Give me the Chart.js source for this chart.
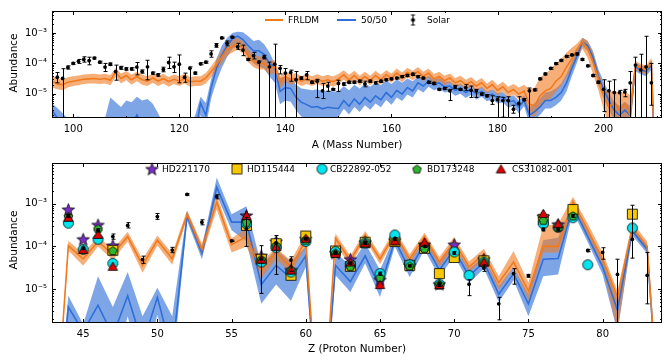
<!DOCTYPE html>
<html lang="en">
<head>
  <meta charset="UTF-8" />
  <title>r-process abundances</title>
  <script src="https://cdn.jsdelivr.net/npm/chart.js"></script>
  <style>
    body { margin: 0; background: #fff; }
    #page { position: relative; width: 670px; height: 361px; overflow: hidden; font-family: "DejaVu Sans", sans-serif; color: #000; }
    #page canvas.chart { position: absolute; left: 0; }
    .axis-title { position: absolute; font-size: 10.5px; white-space: nowrap; transform: translate(-50%, -50%); }
    .axis-title.vertical { transform: translate(-50%, -50%) rotate(-90deg); }
    .legend-text { position: absolute; font-size: 9px; line-height: 1; white-space: nowrap; transform: translateY(-50%); }
    .legend-line { position: absolute; height: 2px; }
    .legend-icon { position: absolute; transform: translate(-50%, -50%); }
  </style>
</head>
<body>
  <div id="page">
    <canvas id="massChart" class="chart" width="670" height="152" style="top:0"></canvas>
    <canvas id="protonChart" class="chart" width="670" height="209" style="top:152px"></canvas>

    <div class="axis-title vertical" style="left:13px; top:63px">Abundance</div>
    <div class="axis-title" style="left:357px; top:144px">A (Mass Number)</div>
    <div class="axis-title vertical" style="left:13px; top:240px">Abundance</div>
    <div class="axis-title" style="left:357px; top:348px">Z (Proton Number)</div>

    <div class="legend-line" style="left:265px; top:19px; width:18px; background:#f17a1f"></div>
    <div class="legend-text" style="left:288px; top:20px">FRLDM</div>
    <div class="legend-line" style="left:337px; top:19px; width:19px; background:#2f6fd8"></div>
    <div class="legend-text" style="left:361px; top:20px">50/50</div>
    <div class="legend-text" style="left:427px; top:20px">Solar</div>
  </div>

  <script>
    // ---- top panel: abundance vs mass number ----
    const massNumbers = [
      96, 97, 98, 99, 100, 101, 102, 103, 104, 105,
      106, 107, 108, 109, 110, 111, 112, 113, 114, 115,
      116, 117, 118, 119, 120, 121, 122, 123, 124, 125,
      126, 127, 128, 129, 130, 131, 132, 133, 134, 135,
      136, 137, 138, 139, 140, 141, 142, 143, 144, 145,
      146, 147, 148, 149, 150, 151, 152, 153, 154, 155,
      156, 157, 158, 159, 160, 161, 162, 163, 164, 165,
      166, 167, 168, 169, 170, 171, 172, 173, 174, 175,
      176, 177, 178, 179, 180, 181, 182, 183, 184, 185,
      186, 187, 188, 189, 190, 191, 192, 193, 194, 195,
      196, 197, 198, 199, 200, 201, 202, 203, 204, 205,
      206, 207, 208, 209, 210
    ];

    const frldmA = [
      2.6e-5, 2.1e-5, 2.0e-5, 2.4e-5, 2.6e-5, 2.8e-5, 3.0e-5, 3.1e-5, 3.2e-5, 3.0e-5,
      3.2e-5, 2.8e-5, 5.1e-5, 3.2e-5, 4.0e-5, 2.9e-5, 3.7e-5, 2.9e-5, 2.6e-5, 3.3e-5,
      2.6e-5, 3.2e-5, 2.5e-5, 3.0e-5, 2.6e-5, 3.2e-5, 2.5e-5, 2.6e-5, 2.6e-5, 3.3e-5,
      5.4e-5, 8.8e-5, 1.6e-4, 3.0e-4, 3.5e-4, 4.3e-4, 3.3e-4, 1.8e-4, 1.2e-4, 1.0e-4,
      1.0e-4, 6.8e-5, 7.7e-5, 2.3e-5, 3.7e-5, 2.9e-5, 3.3e-5, 2.6e-5, 3.1e-5, 2.6e-5,
      3.0e-5, 2.6e-5, 2.9e-5, 2.5e-5, 3.1e-5, 4.2e-5, 2.9e-5, 4.0e-5, 2.7e-5, 3.7e-5,
      2.7e-5, 4.0e-5, 2.9e-5, 4.2e-5, 3.3e-5, 4.8e-5, 3.5e-5, 5.1e-5, 4.0e-5, 5.4e-5,
      3.7e-5, 4.8e-5, 3.1e-5, 3.7e-5, 2.7e-5, 3.3e-5, 2.3e-5, 2.7e-5, 2.0e-5, 2.5e-5,
      1.8e-5, 2.3e-5, 1.5e-5, 2.0e-5, 1.3e-5, 1.7e-5, 1.1e-5, 1.4e-5, 9.8e-6, 1.25e-5,
      4.5e-6, 4.0e-6, 8.6e-6, 1.25e-5, 1.5e-5, 2.6e-5, 3.7e-5, 7.7e-5, 1.4e-4, 3.0e-4,
      5.1e-4, 3.0e-4, 1.1e-4, 3.3e-5, 8.6e-6, 3.7e-6, 5.3e-6, 2.9e-6, 4.7e-6, 2.0e-6,
      8.8e-5, 6.8e-5, 6.1e-5, 1.1e-4, 1e-9
    ];
    const frldmALo = [
      1.6e-5, 1.4e-5, 1.3e-5, 1.6e-5, 1.8e-5, 1.9e-5, 2.1e-5, 2.2e-5, 2.2e-5, 2.1e-5,
      2.2e-5, 1.9e-5, 3.6e-5, 2.2e-5, 2.8e-5, 2.0e-5, 2.6e-5, 2.0e-5, 1.8e-5, 2.3e-5,
      1.8e-5, 2.2e-5, 1.7e-5, 2.1e-5, 1.8e-5, 2.2e-5, 1.7e-5, 1.8e-5, 1.8e-5, 2.2e-5,
      3.5e-5, 5.5e-5, 1.0e-4, 1.8e-4, 2.3e-4, 2.8e-4, 2.1e-4, 1.1e-4, 7.5e-5, 6.3e-5,
      6.3e-5, 4.2e-5, 4.8e-5, 1.5e-5, 2.5e-5, 2.0e-5, 2.3e-5, 1.8e-5, 2.1e-5, 1.8e-5,
      2.1e-5, 1.8e-5, 2.0e-5, 1.7e-5, 2.1e-5, 2.9e-5, 2.0e-5, 2.8e-5, 1.9e-5, 2.6e-5,
      1.9e-5, 2.8e-5, 2.0e-5, 2.9e-5, 2.3e-5, 3.3e-5, 2.4e-5, 3.5e-5, 2.8e-5, 3.7e-5,
      2.6e-5, 3.3e-5, 2.1e-5, 2.6e-5, 1.9e-5, 2.3e-5, 1.6e-5, 1.9e-5, 1.4e-5, 1.7e-5,
      1.2e-5, 1.6e-5, 1.0e-5, 1.4e-5, 8.8e-6, 1.2e-5, 7.5e-6, 9.5e-6, 6.5e-6, 8.0e-6,
      2.0e-6, 1.8e-6, 3.5e-6, 5.5e-6, 7.0e-6, 1.2e-5, 1.8e-5, 3.5e-5, 6.5e-5, 1.5e-4,
      3.0e-4, 1.5e-4, 4.5e-5, 1.3e-5, 3.0e-6, 1.0e-6, 1.5e-6, 8e-7, 1.2e-6, 5e-7,
      6.5e-5, 4.8e-5, 4.3e-5, 8.0e-5, 1e-9
    ];
    const frldmAHi = [
      4.0e-5, 3.2e-5, 3.0e-5, 3.5e-5, 3.8e-5, 4.0e-5, 4.3e-5, 4.5e-5, 4.6e-5, 4.3e-5,
      4.6e-5, 4.1e-5, 7.0e-5, 4.6e-5, 5.6e-5, 4.2e-5, 5.3e-5, 4.2e-5, 3.8e-5, 4.7e-5,
      3.8e-5, 4.6e-5, 3.6e-5, 4.3e-5, 3.8e-5, 4.6e-5, 3.6e-5, 3.8e-5, 3.8e-5, 4.8e-5,
      8.0e-5, 1.4e-4, 2.6e-4, 4.6e-4, 6.1e-4, 6.9e-4, 5.5e-4, 3.0e-4, 2.0e-4, 1.7e-4,
      1.7e-4, 1.2e-4, 1.3e-4, 3.7e-5, 5.5e-5, 4.3e-5, 4.8e-5, 3.8e-5, 4.5e-5, 3.8e-5,
      4.4e-5, 3.8e-5, 4.2e-5, 3.7e-5, 4.5e-5, 6.0e-5, 4.2e-5, 5.7e-5, 3.9e-5, 5.3e-5,
      3.9e-5, 5.7e-5, 4.2e-5, 6.0e-5, 4.7e-5, 6.8e-5, 5.0e-5, 7.2e-5, 5.7e-5, 7.6e-5,
      5.3e-5, 6.8e-5, 4.5e-5, 5.3e-5, 3.9e-5, 4.7e-5, 3.3e-5, 3.9e-5, 2.9e-5, 3.6e-5,
      2.6e-5, 3.3e-5, 2.2e-5, 2.9e-5, 1.9e-5, 2.5e-5, 1.7e-5, 2.1e-5, 1.6e-5, 2.0e-5,
      1.4e-5, 1.6e-5, 3.5e-5, 4.5e-5, 6.5e-5, 1.0e-4, 1.4e-4, 2.3e-4, 3.3e-4, 4.5e-4,
      7.0e-4, 5.5e-4, 2.3e-4, 5.4e-5, 1.5e-5, 1.1e-5, 1.3e-5, 1.0e-5, 1.2e-5, 9.0e-6,
      1.2e-4, 9.5e-5, 8.5e-5, 1.5e-4, 1e-9
    ];

    const fiftyA = [
      2.9e-6, 1.6e-6, 8e-7, 5e-7, 4e-7, 4e-7, 4e-7, 4e-7, 4e-7, 4e-7,
      4e-7, 8e-7, 1.0e-6, 6e-7, 1.2e-6, 9e-7, 2.0e-6, 1.0e-6, 1.2e-6, 8e-7,
      5e-7, 3e-7, 2e-7, 2e-7, 2e-7, 2e-7, 2e-7, 5e-7, 5.0e-6, 2.0e-6,
      1.6e-5, 6.8e-5, 1.8e-4, 3.8e-4, 6.4e-4, 7.9e-4, 6.1e-4, 3.8e-4, 2.6e-4, 2.6e-4,
      2.0e-4, 1.0e-4, 7.7e-5, 1.2e-5, 1.6e-5, 1.5e-5, 7.6e-6, 5.3e-6, 4.4e-6, 3.6e-6,
      3.8e-6, 3.2e-6, 3.6e-6, 3.4e-6, 3.3e-6, 6.0e-6, 3.9e-6, 6.8e-6, 4.5e-6, 7.6e-6,
      5.3e-6, 8.6e-6, 6.3e-6, 1.1e-5, 7.6e-6, 1.3e-5, 9.8e-6, 1.6e-5, 1.25e-5, 2.3e-5,
      1.8e-5, 2.6e-5, 2.0e-5, 2.3e-5, 1.7e-5, 1.8e-5, 1.3e-5, 1.5e-5, 1.1e-5, 1.4e-5,
      9.8e-6, 1.2e-5, 8.6e-6, 9.8e-6, 7.3e-6, 8.0e-6, 5.3e-6, 6.0e-6, 3.7e-6, 6.0e-6,
      2.0e-6, 2.6e-6, 3.7e-6, 6.0e-6, 6.0e-6, 7.6e-6, 1.1e-5, 2.3e-5, 6.8e-5, 1.8e-4,
      5.1e-4, 3.8e-4, 1.6e-4, 3.7e-5, 1.4e-5, 6.0e-6, 2.9e-6, 2.0e-6, 2.9e-6, 2.0e-6,
      7.7e-5, 6.1e-5, 5.4e-5, 8.8e-5, 1e-9
    ];
    const fiftyALo = [
      1.2e-6, 6e-7, 1e-7, 1e-7, 1e-7, 1e-7, 1e-7, 1e-7, 1e-7, 1e-7,
      1e-7, 1e-7, 1e-7, 1e-7, 1e-7, 1e-7, 1e-7, 1e-7, 1e-7, 1e-7,
      1e-7, 1e-7, 1e-7, 1e-7, 1e-7, 1e-7, 1e-7, 1e-7, 2.0e-6, 8e-7,
      7.0e-6, 2.5e-5, 7.0e-5, 1.6e-4, 3.0e-4, 3.8e-4, 3.0e-4, 1.6e-4, 1.0e-4, 7.7e-5,
      6.8e-5, 3.7e-5, 2.3e-5, 4.5e-6, 6.0e-6, 5.5e-6, 2.9e-6, 1.8e-6, 1.6e-6, 1.3e-6,
      1.4e-6, 1.2e-6, 1.3e-6, 1.2e-6, 1.7e-6, 3.2e-6, 2.1e-6, 3.7e-6, 2.5e-6, 4.2e-6,
      3.0e-6, 4.8e-6, 3.6e-6, 6.3e-6, 4.4e-6, 7.6e-6, 5.8e-6, 9.5e-6, 7.5e-6, 1.4e-5,
      1.1e-5, 1.7e-5, 1.3e-5, 1.5e-5, 1.1e-5, 1.2e-5, 8.6e-6, 1.0e-5, 7.3e-6, 9.3e-6,
      6.5e-6, 8.0e-6, 5.7e-6, 6.5e-6, 4.8e-6, 5.3e-6, 3.5e-6, 4.0e-6, 2.3e-6, 4.0e-6,
      1.0e-6, 1.4e-6, 2.0e-6, 3.3e-6, 3.3e-6, 4.2e-6, 6.0e-6, 1.2e-5, 3.8e-5, 1.1e-4,
      3.6e-4, 2.5e-4, 9.5e-5, 2.0e-5, 7.0e-6, 3.0e-6, 1.3e-6, 8e-7, 1.3e-6, 8e-7,
      5.5e-5, 4.3e-5, 3.8e-5, 6.3e-5, 1e-9
    ];
    const fiftyAHi = [
      4.9e-6, 3.4e-6, 2.3e-6, 1.5e-6, 1.7e-6, 1.8e-6, 1.5e-6, 1.4e-6, 1.2e-6, 1.0e-6,
      1.6e-6, 7.6e-6, 5.3e-6, 3.7e-6, 6.0e-6, 5.3e-6, 8.0e-6, 6.0e-6, 6.8e-6, 4.7e-6,
      2.3e-6, 1.0e-6, 8e-7, 8e-7, 8e-7, 8e-7, 8e-7, 2.0e-6, 8.0e-6, 5.0e-6,
      3.0e-5, 1.4e-4, 3.8e-4, 6.9e-4, 1.0e-3, 1.1e-3, 1.05e-3, 7.9e-4, 5.5e-4, 6.0e-4,
      4.3e-4, 2.3e-4, 1.0e-4, 3.3e-5, 3.7e-5, 3.3e-5, 2.0e-5, 1.5e-5, 1.4e-5, 1.3e-5,
      1.4e-5, 1.2e-5, 1.3e-5, 1.2e-5, 1.2e-5, 1.8e-5, 1.3e-5, 2.0e-5, 1.5e-5, 2.2e-5,
      1.7e-5, 2.4e-5, 1.9e-5, 2.8e-5, 2.1e-5, 3.0e-5, 2.3e-5, 3.2e-5, 2.6e-5, 3.8e-5,
      3.0e-5, 4.0e-5, 3.0e-5, 3.3e-5, 2.5e-5, 2.6e-5, 1.9e-5, 2.2e-5, 1.6e-5, 2.0e-5,
      1.4e-5, 1.7e-5, 1.2e-5, 1.4e-5, 1.05e-5, 1.15e-5, 8.0e-6, 9.0e-6, 6.0e-6, 9.0e-6,
      3.5e-6, 5.0e-6, 7.0e-6, 1.1e-5, 1.2e-5, 1.5e-5, 2.2e-5, 4.5e-5, 1.2e-4, 2.8e-4,
      7.0e-4, 5.5e-4, 2.5e-4, 6.5e-5, 2.5e-5, 1.1e-5, 5.5e-6, 4.0e-6, 5.5e-6, 4.0e-6,
      1.05e-4, 8.5e-5, 7.5e-5, 1.2e-4, 1e-9
    ];

    const solarA = [
      null, 3.5e-5, 3.2e-5, 7.4e-5, 1.0e-4, 1.17e-4, 1.35e-4, 1.23e-4, 1.5e-4, 1.1e-4,
      7.6e-5, 9.4e-5, 5.4e-5, 7.2e-5, 6.6e-5, 6.6e-5, 7.6e-5, 5.4e-5, 7.7e-5, 4.8e-5,
      4.2e-5, 6.3e-5, 1.07e-4, 7.7e-5, 9.4e-5, 3.5e-5, 6.9e-5, 4.8e-5, 9.7e-5, 1.1e-4,
      2.05e-4, 3.9e-4, 6.9e-4, 4.6e-4, 7.3e-4, 3.5e-4, 2.75e-4, 1.35e-4, 1.8e-4, 1.1e-4,
      1.6e-4, 7.7e-5, 9.4e-5, 6.9e-5, 4.8e-5, 5.0e-5, 2.9e-5, 3.3e-5, 4.2e-5, 2.4e-5,
      2.6e-5, 1.25e-5, 1.8e-5, 1.4e-5, 2.2e-5, 2.1e-5, 2.4e-5, 2.4e-5, 2.6e-5, 2.1e-5,
      2.6e-5, 2.3e-5, 2.6e-5, 2.9e-5, 3.1e-5, 3.3e-5, 3.7e-5, 4.0e-5, 4.4e-5, 3.7e-5,
      3.3e-5, 2.4e-5, 2.2e-5, 1.4e-5, 1.5e-5, 1.25e-5, 1.7e-5, 1.4e-5, 1.6e-5, 1.3e-5,
      1.25e-5, 9.8e-6, 8.6e-6, 6.0e-6, 6.4e-6, 6.0e-6, 6.0e-6, 3.1e-6, 4.8e-6, 6.4e-6,
      1.25e-5, 1.35e-5, 3.1e-5, 4.5e-5, 6.9e-5, 9.9e-5, 1.26e-4, 1.7e-4, 1.9e-4, 2.05e-4,
      1.35e-4, 8.3e-5, 4.0e-5, 2.4e-5, 1.4e-5, 1.25e-5, 1.1e-5, 1.1e-5, 1.15e-5, 2.3e-5,
      8.8e-5, 6.1e-5, 7.7e-5, 2.3e-5, null
    ];
    const solarALo = [
      null, 2.3e-5, 1e-7, 6.5e-5, 9.2e-5, 1.0e-4, 1.1e-4, 9.0e-5, 1.4e-4, 1.02e-4,
      5.4e-5, 8.5e-5, 2.8e-5, 6.4e-5, 6.0e-5, 6.0e-5, 4.2e-5, 4.8e-5, 2.9e-5, 4.4e-5,
      3.8e-5, 5.3e-5, 6.8e-5, 5.0e-5, 2.3e-5, 2.4e-5, 1e-7, 4.4e-5, 9.0e-5, 1.02e-4,
      1.6e-4, 3.4e-4, 6.5e-4, 3.8e-4, 6.9e-4, 2.9e-4, 1.8e-4, 1.25e-4, 1.4e-4, 1e-7,
      1.4e-4, 1e-7, 1e-7, 4.5e-5, 1e-7, 2.6e-5, 1e-7, 3.0e-5, 2.9e-5, 2.2e-5,
      7.5e-6, 7.0e-6, 1.2e-5, 1.3e-5, 1.2e-5, 1.9e-5, 2.2e-5, 2.2e-5, 2.4e-5, 1.7e-5,
      2.4e-5, 2.1e-5, 2.4e-5, 2.7e-5, 2.9e-5, 3.1e-5, 3.4e-5, 3.7e-5, 4.0e-5, 3.4e-5,
      3.1e-5, 2.2e-5, 2.0e-5, 1.3e-5, 1.4e-5, 6.0e-6, 1.5e-5, 1.3e-5, 1.3e-5, 7.6e-6,
      7.6e-6, 9.0e-6, 7.9e-6, 4.5e-6, 1e-7, 1.7e-6, 1e-7, 2.3e-6, 1e-7, 5.9e-6,
      1e-7, 1.25e-5, 2.9e-5, 4.2e-5, 6.4e-5, 9.3e-5, 1.18e-4, 1.6e-4, 1.8e-4, 1.9e-4,
      1.25e-4, 7.8e-5, 3.7e-5, 2.2e-5, 2.6e-6, 1e-7, 1e-7, 1e-7, 8.0e-6, 1e-7,
      1e-7, 1e-7, 1e-7, 4.2e-6, null
    ];
    const solarAHi = [
      null, 5.0e-5, 6.7e-5, 8.3e-5, 1.08e-4, 1.35e-4, 1.65e-4, 1.6e-4, 1.6e-4, 1.18e-4,
      1.0e-4, 1.03e-4, 8.8e-5, 8.0e-5, 7.2e-5, 7.2e-5, 1.07e-4, 6.1e-5, 1.27e-4, 5.2e-5,
      4.6e-5, 7.5e-5, 1.6e-4, 1.1e-4, 1.9e-4, 4.8e-5, 7.7e-5, 5.2e-5, 1.05e-4, 1.18e-4,
      2.6e-4, 4.5e-4, 7.3e-4, 5.5e-4, 7.7e-4, 4.6e-4, 4.0e-4, 1.45e-4, 2.3e-4, 1.2e-4,
      1.85e-4, 1.1e-4, 4.3e-4, 8.5e-5, 6.8e-5, 6.0e-5, 5.4e-5, 3.6e-5, 5.4e-5, 2.6e-5,
      3.0e-5, 2.2e-5, 2.4e-5, 1.5e-5, 2.8e-5, 2.3e-5, 2.6e-5, 2.6e-5, 2.8e-5, 2.6e-5,
      2.8e-5, 2.5e-5, 2.8e-5, 3.1e-5, 3.3e-5, 3.5e-5, 4.0e-5, 4.3e-5, 4.8e-5, 4.0e-5,
      3.5e-5, 2.6e-5, 2.4e-5, 1.5e-5, 1.6e-5, 1.4e-5, 1.9e-5, 1.5e-5, 2.0e-5, 1.8e-5,
      1.4e-5, 1.07e-5, 9.4e-6, 8.6e-6, 8.0e-6, 7.6e-6, 8.0e-6, 4.2e-6, 8.0e-6, 7.0e-6,
      1.55e-5, 1.45e-5, 3.3e-5, 4.8e-5, 7.4e-5, 1.06e-4, 1.34e-4, 1.8e-4, 2.0e-4, 2.2e-4,
      1.45e-4, 8.8e-5, 4.3e-5, 2.6e-5, 2.9e-5, 2.6e-5, 2.9e-5, 1.3e-5, 1.4e-5, 5.4e-5,
      1.6e-4, 2.0e-4, 7.8e-4, 1.0e-4, null
    ];

    // ---- bottom panel: abundance vs proton number ----
    const protonNumbers = [
      43, 44, 45, 46, 47, 48, 49, 50, 51, 52,
      53, 54, 55, 56, 57, 58, 59, 60, 61, 62,
      63, 64, 65, 66, 67, 68, 69, 70, 71, 72,
      73, 74, 75, 76, 77, 78, 79, 80, 81, 82,
      83, 84
    ];

    const frldmZ = [
      1e-9, 1.04e-4, 5.1e-5, 1.3e-4, 6.5e-5, 1.7e-4, 3.6e-5, 1.4e-4, 5.1e-5, 5.6e-4,
      8.5e-5, 1.1e-3, 1.1e-4, 1.7e-4, 2.8e-5, 7.2e-5, 3.3e-5, 1.4e-4, 1e-9, 1.55e-4,
      4.6e-5, 1.85e-4, 5.0e-5, 2.0e-4, 5.0e-5, 1.7e-4, 4.3e-5, 1.3e-4, 3.3e-5, 6.6e-5,
      1.4e-5, 4.3e-5, 9.0e-6, 1.0e-4, 1.0e-4, 1.13e-3, 2.4e-4, 5.0e-5, 6.4e-6, 2.8e-4,
      1.0e-4, 1e-9
    ];
    const frldmZLo = [
      1e-9, 8.0e-5, 3.5e-5, 1.0e-4, 4.8e-5, 1.3e-4, 2.4e-5, 1.05e-4, 3.7e-5, 4.5e-4,
      6.0e-5, 7.3e-4, 7.2e-5, 1.0e-4, 1.8e-5, 5.0e-5, 2.3e-5, 1.0e-4, 1e-9, 1.1e-4,
      3.5e-5, 1.45e-4, 3.8e-5, 1.6e-4, 3.9e-5, 1.35e-4, 3.3e-5, 1.0e-4, 2.5e-5, 5.0e-5,
      9.5e-6, 3.3e-5, 5.4e-6, 7.2e-5, 7.2e-5, 8.0e-4, 1.7e-4, 3.3e-5, 1.0e-6, 2.2e-4,
      7.8e-5, 1e-9
    ];
    const frldmZHi = [
      1e-9, 1.35e-4, 6.8e-5, 1.7e-4, 8.5e-5, 2.2e-4, 5.0e-5, 1.8e-4, 6.8e-5, 7.0e-4,
      1.15e-4, 1.6e-3, 1.55e-4, 2.6e-4, 4.3e-5, 9.3e-5, 4.6e-5, 2.0e-4, 1e-9, 2.0e-4,
      6.0e-5, 2.3e-4, 6.5e-5, 2.5e-4, 6.5e-5, 2.1e-4, 5.6e-5, 1.65e-4, 4.4e-5, 8.8e-5,
      2.0e-5, 7.8e-5, 1.4e-5, 3.1e-4, 3.3e-4, 1.46e-3, 3.4e-4, 7.2e-5, 9.0e-6, 3.7e-4,
      1.3e-4, 1e-9
    ];

    const fiftyZ = [
      1e-9, 3.8e-6, 1.0e-6, 4.2e-6, 8e-7, 7.0e-6, 5e-7, 6.4e-6, 3e-7, 5.2e-4,
      7.0e-5, 2.45e-3, 3.7e-4, 3.7e-4, 1.27e-5, 3.6e-5, 1.8e-5, 6.0e-5, 1e-9, 3.6e-5,
      1.5e-5, 6.0e-5, 1.07e-5, 1.4e-4, 2.8e-5, 1.2e-4, 2.8e-5, 8.5e-5, 2.0e-5, 4.3e-5,
      7.6e-6, 2.3e-5, 4.5e-6, 5.0e-5, 5.2e-5, 8.7e-4, 1.7e-4, 3.3e-5, 3.2e-6, 2.3e-4,
      8.5e-5, 1e-9
    ];
    const fiftyZLo = [
      1e-9, 5e-7, 1e-7, 1.7e-6, 1e-7, 2.3e-6, 1e-7, 2.5e-6, 1e-7, 4.0e-4,
      5.0e-5, 1.6e-3, 2.4e-4, 1.3e-4, 4.5e-6, 1.27e-5, 5.3e-6, 3.3e-5, 1e-9, 2.1e-5,
      8.5e-6, 4.0e-5, 6.5e-6, 1.0e-4, 1.9e-5, 8.5e-5, 1.9e-5, 6.0e-5, 1.4e-5, 3.0e-5,
      5.0e-6, 1.6e-5, 2.3e-6, 2.0e-5, 2.2e-5, 6.5e-4, 1.25e-4, 2.2e-5, 1.0e-6, 1.8e-4,
      6.8e-5, 1e-9
    ];
    const fiftyZHi = [
      1e-9, 7.0e-6, 1.5e-6, 2.0e-5, 3.8e-6, 2.5e-5, 2.3e-6, 1.07e-5, 2.3e-6, 6.7e-4,
      1.0e-4, 4.1e-3, 5.7e-4, 8.7e-4, 3.6e-5, 8.5e-5, 4.3e-5, 1.0e-4, 1e-9, 7.2e-5,
      3.5e-5, 1.2e-4, 2.8e-5, 1.8e-4, 4.5e-5, 1.5e-4, 4.3e-5, 1.1e-4, 3.0e-5, 5.8e-5,
      1.2e-5, 3.3e-5, 7.7e-6, 1.4e-4, 1.6e-4, 1.1e-3, 2.3e-4, 4.8e-5, 5.5e-6, 2.8e-4,
      1.05e-4, 1e-9
    ];

    const solarZ = [
      null, 5.2e-4, 9.0e-5, 2.4e-4, 1.7e-4, 3.1e-4, 4.9e-5, 5.0e-4, 8.2e-5, 1.65e-3,
      3.7e-4, 1.46e-3, 1.35e-4, 2.6e-4, 5.0e-5, 1.2e-4, 4.8e-5, 1.5e-4, null, 7.0e-5,
      4.0e-5, 1.2e-4, 2.3e-5, 1.5e-4, 3.5e-5, 1.0e-4, 1.27e-5, 7.0e-5, 1.3e-5, 3.1e-5,
      4.5e-6, 2.3e-5, 2.05e-5, 2.5e-4, 2.5e-4, 5.2e-4, 8.0e-5, 7.2e-5, 2.2e-5, 1.47e-4,
      2.1e-5, null
    ];
    const solarZLo = [
      null, 4.8e-4, 8.4e-5, 2.2e-4, 1.47e-4, 2.7e-4, 4.0e-5, 4.3e-4, 7.1e-5, 1.58e-3,
      3.2e-4, 1.3e-3, 1.3e-4, 1.0e-4, 7.9e-6, 2.2e-5, 2.6e-5, 1.4e-4, null, 6.5e-5,
      3.7e-5, 1.1e-4, 2.1e-5, 1.4e-4, 3.3e-5, 9.4e-5, 1.15e-5, 6.5e-5, 7.0e-6, 2.6e-5,
      1.9e-6, 1.3e-5, 1.9e-5, 2.3e-4, 2.3e-4, 4.8e-4, 7.5e-5, 5.0e-5, 1e-7, 5.3e-5,
      4.5e-6, null
    ];
    const solarZHi = [
      null, 5.6e-4, 9.6e-5, 2.6e-4, 1.95e-4, 3.6e-4, 5.9e-5, 5.9e-4, 9.5e-5, 1.72e-3,
      4.2e-4, 1.62e-3, 1.4e-4, 4.8e-4, 1.04e-4, 1.8e-4, 5.7e-5, 1.6e-4, null, 7.5e-5,
      4.3e-5, 1.3e-4, 2.5e-5, 1.6e-4, 3.7e-5, 1.06e-4, 1.4e-5, 7.5e-5, 1.65e-5, 3.7e-5,
      6.4e-6, 3.0e-5, 2.2e-5, 2.7e-4, 2.7e-4, 5.6e-4, 8.5e-5, 9.3e-5, 5.0e-5, 9.2e-4,
      7.2e-5, null
    ];

    // metal-poor stars, same proton numbers, null where not measured
    const hd221170 = [
      null, 7.3e-4, 1.47e-4, 3.2e-4, 1.05e-4, null, null, null, null, null,
      null, null, null, 5.3e-4, 6.0e-5, 1.3e-4, 2.8e-5, 1.5e-4, null, 7.0e-5,
      5.0e-5, 1.25e-4, 1.65e-5, 1.4e-4, 3.6e-5, 1.1e-4, 1.3e-5, 1.1e-4, null, 5.0e-5,
      null, null, null, 5.0e-4, 3.3e-4, null, null, null, null, null,
      null, null
    ];
    const hd115444 = [
      null, null, null, null, 8.1e-5, null, null, null, null, null,
      null, null, null, 3.1e-4, 5.0e-5, 1.16e-4, 2.1e-5, 1.75e-4, null, 7.8e-5,
      3.4e-5, 1.25e-4, null, 1.3e-4, 3.6e-5, 9.0e-5, 2.3e-5, 5.5e-5, null, 4.6e-5,
      null, null, null, 4.3e-4, null, 7.3e-4, null, null, null, 5.7e-4,
      null, null
    ];
    const cb22892 = [
      null, 3.5e-4, 8.5e-5, 1.47e-4, 4.0e-5, null, null, null, null, null,
      null, null, null, 3.4e-4, 4.3e-5, 9.3e-5, 2.5e-5, 1.3e-4, null, 7.5e-5,
      3.7e-5, 1.2e-4, 2.3e-5, 1.85e-4, 3.7e-5, 9.5e-5, 1.3e-5, 7.4e-5, 2.1e-5, 4.3e-5,
      null, null, null, 3.4e-4, 2.8e-4, 4.7e-4, 3.7e-5, null, null, 2.7e-4,
      null, null
    ];
    const bd173248 = [
      null, 5.0e-4, null, 2.6e-4, 8.0e-5, null, null, null, null, null,
      null, null, null, 3.7e-4, 5.0e-5, 1.05e-4, 2.8e-5, 1.4e-4, null, 7.0e-5,
      3.4e-5, 1.2e-4, 1.86e-5, 1.35e-4, 3.5e-5, 9.0e-5, 1.3e-5, null, null, 4.3e-5,
      null, null, null, 4.1e-4, 2.8e-4, 5.2e-4, null, null, null, null,
      null, null
    ];
    const cs31082 = [
      null, 4.8e-4, 8.5e-5, 1.9e-4, 3.4e-5, null, null, null, null, null,
      null, null, null, 5.3e-4, 5.0e-5, 1.0e-4, 2.8e-5, 1.55e-4, null, 6.9e-5,
      4.3e-5, 1.2e-4, 1.27e-5, 1.35e-4, null, 1.25e-4, 1.27e-5, null, null, 4.3e-5,
      null, null, null, 5.9e-4, 3.4e-4, null, null, null, null, null,
      null, null
    ];

    // ticks
    const massTicks = [100, 120, 140, 160, 180, 200];
    const protonTicks = [45, 50, 55, 60, 65, 70, 75, 80];
    const logTicks = [1e-5, 1e-4, 1e-3];
    const logTickLabels = ['10\u207B\u2075', '10\u207B\u2074', '10\u207B\u00B3'];

    const ORANGE = '#f17a1f';
    const BLUE = '#2f6fd8';
    const ORANGE_BAND = 'rgba(241,122,31,0.6)';
    const BLUE_BAND = 'rgba(47,111,216,0.62)';

    Chart.defaults.font.family = '"DejaVu Sans", sans-serif';
    Chart.defaults.font.size = 10;
    Chart.defaults.color = '#000';

    function pts(xs, ys) {
      const out = [];
      xs.forEach((x, i) => { if (ys[i] != null) out.push({ x: x, y: ys[i] }); });
      return out;
    }

    function makeMarker(shape, fill, size) {
      const c = document.createElement('canvas');
      c.width = c.height = size + 2;
      const g = c.getContext('2d');
      const m = (size + 2) / 2, r = size / 2;
      g.beginPath();
      if (shape === 'star') {
        for (let i = 0; i < 10; i++) {
          const a = -Math.PI / 2 + i * Math.PI / 5;
          const rr = i % 2 ? r * 0.42 : r;
          g.lineTo(m + rr * Math.cos(a), m + 0.6 + rr * Math.sin(a));
        }
      } else if (shape === 'square') {
        g.rect(m - r + 0.5, m - r + 0.5, 2 * r - 1, 2 * r - 1);
      } else if (shape === 'circle') {
        g.arc(m, m, r - 0.5, 0, Math.PI * 2);
      } else if (shape === 'pentagon') {
        for (let i = 0; i < 5; i++) {
          const a = -Math.PI / 2 + i * 2 * Math.PI / 5;
          g.lineTo(m + r * Math.cos(a), m + 0.5 + r * Math.sin(a));
        }
      } else if (shape === 'triangle') {
        for (let i = 0; i < 3; i++) {
          const a = -Math.PI / 2 + i * 2 * Math.PI / 3;
          g.lineTo(m + r * Math.cos(a), m + 1.2 + r * Math.sin(a));
        }
      }
      g.closePath();
      g.fillStyle = fill;
      g.fill();
      g.lineWidth = 0.8;
      g.strokeStyle = '#000';
      g.stroke();
      return c;
    }

    const stars = [
      { label: 'HD221170', values: hd221170, shape: 'star', color: '#7a2fc4', size: 13, x: 152, textX: 162 },
      { label: 'HD115444', values: hd115444, shape: 'square', color: '#f7c800', size: 11, x: 237, textX: 247 },
      { label: 'CB22892-052', values: cb22892, shape: 'circle', color: '#00e6f0', size: 11, x: 322, textX: 330 },
      { label: 'BD173248', values: bd173248, shape: 'pentagon', color: '#2fb52f', size: 9, x: 417, textX: 427 },
      { label: 'CS31082-001', values: cs31082, shape: 'triangle', color: '#e00000', size: 11, x: 501, textX: 512 }
    ];

    // error bars for the solar values, placed with the chart scales
    const errorBars = {
      id: 'errorBars',
      afterDatasetsDraw(chart, args, o) {
        const { ctx, chartArea: a } = chart;
        const x = chart.scales.x, y = chart.scales.y;
        ctx.save();
        ctx.beginPath();
        ctx.rect(a.left, a.top, a.right - a.left, a.bottom - a.top);
        ctx.clip();
        ctx.strokeStyle = '#000';
        ctx.lineWidth = 1;
        ctx.beginPath();
        o.xs.forEach((xv, i) => {
          if (o.lo[i] == null || o.hi[i] == null) return;
          const px = Math.round(x.getPixelForValue(xv)) + 0.5;
          const y1 = y.getPixelForValue(o.lo[i]);
          const y2 = y.getPixelForValue(o.hi[i]);
          ctx.moveTo(px, y1); ctx.lineTo(px, y2);
          ctx.moveTo(px - 2, y1); ctx.lineTo(px + 2, y1);
          ctx.moveTo(px - 2, y2); ctx.lineTo(px + 2, y2);
        });
        ctx.stroke();
        ctx.restore();
      }
    };

    // box around the plot with inward ticks on all four sides
    const frame = {
      id: 'frame',
      afterDraw(chart, args, o) {
        const { ctx, chartArea: a } = chart;
        const x = chart.scales.x, y = chart.scales.y;
        ctx.save();
        ctx.strokeStyle = '#000';
        ctx.lineWidth = 1;
        ctx.beginPath();
        const markX = (p, len) => {
          p = Math.round(p) + 0.5;
          ctx.moveTo(p, a.bottom); ctx.lineTo(p, a.bottom - len);
          ctx.moveTo(p, a.top); ctx.lineTo(p, a.top + len);
        };
        const markY = (p, len) => {
          p = Math.round(p) + 0.5;
          ctx.moveTo(a.left, p); ctx.lineTo(a.left + len, p);
          ctx.moveTo(a.right, p); ctx.lineTo(a.right - len, p);
        };
        x.ticks.forEach(t => markX(x.getPixelForValue(t.value), 4));
        if (o.xMinorStep) {
          for (let v = Math.ceil(x.min / o.xMinorStep) * o.xMinorStep; v <= x.max; v += o.xMinorStep) {
            markX(x.getPixelForValue(v), 2);
          }
        }
        y.ticks.forEach(t => markY(y.getPixelForValue(t.value), 4));
        for (let e = Math.floor(Math.log10(y.min)); e <= Math.log10(y.max); e++) {
          for (let k = 2; k <= 9; k++) {
            const v = k * Math.pow(10, e);
            if (v > y.min && v < y.max) markY(y.getPixelForValue(v), 2);
          }
        }
        ctx.stroke();
        ctx.strokeRect(Math.round(a.left) + 0.5, Math.round(a.top) + 0.5,
          Math.round(a.right - a.left) - 1, Math.round(a.bottom - a.top) - 1);
        ctx.restore();
      }
    };

    function band(xs, lo, hi, color, order) {
      return [
        { data: pts(xs, lo), borderColor: 'rgba(0,0,0,0)', borderWidth: 1, pointRadius: 0, fill: false, order: order + 1 },
        { data: pts(xs, hi), borderColor: 'rgba(0,0,0,0)', borderWidth: 1, backgroundColor: color, pointRadius: 0, fill: '-1', order: order }
      ];
    }

    function line(xs, ys, color, order) {
      return { data: pts(xs, ys), borderColor: color, borderWidth: 1.6, pointRadius: 0, fill: false, order: order };
    }

    function solarPoints(xs, ys) {
      return { data: pts(xs, ys), showLine: false, pointRadius: 1.9, pointBackgroundColor: '#000', pointBorderWidth: 0, order: 0 };
    }

    function makeChart(id, cfg) {
      return new Chart(document.getElementById(id), {
        type: 'line',
        data: { datasets: cfg.datasets },
        options: {
          responsive: false,
          animation: false,
          layout: { padding: { top: cfg.padTop, right: 8, left: 0, bottom: 0 } },
          plugins: {
            legend: { display: false },
            tooltip: { enabled: false },
            errorBars: cfg.errors,
            frame: { xMinorStep: cfg.xMinorStep }
          },
          scales: {
            x: {
              type: 'linear', min: cfg.xMin, max: cfg.xMax,
              grid: { display: false, drawTicks: false }, border: { display: false },
              ticks: { padding: 5, maxRotation: 0, autoSkip: false, font: { size: 10 } },
              afterBuildTicks: s => { s.ticks = cfg.xTicks.map(v => ({ value: v })); },
              afterFit: s => { s.height = cfg.xAxisHeight; }
            },
            y: {
              type: 'logarithmic', min: cfg.yMin, max: cfg.yMax,
              grid: { display: false, drawTicks: false }, border: { display: false },
              ticks: { padding: 5, font: { size: 10 }, callback: (v, i) => logTickLabels[i] },
              afterBuildTicks: s => { s.ticks = logTicks.map(v => ({ value: v })); },
              afterFit: s => { s.width = 52; }
            }
          }
        },
        plugins: [errorBars, frame]
      });
    }

    makeChart('massChart', {
      datasets: [
        ...band(massNumbers, fiftyALo, fiftyAHi, BLUE_BAND, 10),
        ...band(massNumbers, frldmALo, frldmAHi, ORANGE_BAND, 7),
        line(massNumbers, fiftyA, BLUE, 5),
        line(massNumbers, frldmA, ORANGE, 4),
        solarPoints(massNumbers, solarA)
      ],
      errors: { xs: massNumbers, lo: solarALo, hi: solarAHi },
      padTop: 7, xAxisHeight: 34,
      xMin: 96, xMax: 211, xTicks: massTicks, xMinorStep: 10,
      yMin: 1.6e-6, yMax: 5.3e-3
    });

    const starSets = stars.map((s, i) => ({
      data: pts(protonNumbers, s.values),
      showLine: false,
      pointStyle: makeMarker(s.shape, s.color, s.size),
      pointRadius: 5,
      order: 3 - i * 0.5
    }));

    makeChart('protonChart', {
      datasets: [
        ...band(protonNumbers, fiftyZLo, fiftyZHi, BLUE_BAND, 10),
        ...band(protonNumbers, frldmZLo, frldmZHi, ORANGE_BAND, 7),
        line(protonNumbers, fiftyZ, BLUE, 5),
        line(protonNumbers, frldmZ, ORANGE, 4),
        ...starSets,
        solarPoints(protonNumbers, solarZ)
      ],
      errors: { xs: protonNumbers, lo: solarZLo, hi: solarZHi },
      padTop: 5, xAxisHeight: 38,
      xMin: 42.9, xMax: 84, xTicks: protonTicks, xMinorStep: null,
      yMin: 1.6e-6, yMax: 9e-3
    });

    // legends drawn as page elements inside the plot areas
    const page = document.getElementById('page');
    stars.forEach(s => {
      const icon = makeMarker(s.shape, s.color, s.size);
      icon.className = 'legend-icon';
      icon.style.left = s.x + 'px';
      icon.style.top = '169px';
      page.appendChild(icon);
      const t = document.createElement('div');
      t.className = 'legend-text';
      t.style.left = s.textX + 'px';
      t.style.top = '169px';
      t.textContent = s.label;
      page.appendChild(t);
    });

    const solarIcon = document.createElement('canvas');
    solarIcon.width = 9; solarIcon.height = 13;
    solarIcon.className = 'legend-icon';
    solarIcon.style.left = '413px';
    solarIcon.style.top = '20px';
    const g = solarIcon.getContext('2d');
    g.strokeStyle = '#000'; g.lineWidth = 1;
    g.beginPath();
    g.moveTo(4.5, 1); g.lineTo(4.5, 12);
    g.moveTo(2.5, 1.5); g.lineTo(6.5, 1.5);
    g.moveTo(2.5, 11.5); g.lineTo(6.5, 11.5);
    g.stroke();
    g.fillStyle = '#000';
    g.beginPath(); g.arc(4.5, 6.5, 2, 0, Math.PI * 2); g.fill();
    page.appendChild(solarIcon);
  </script>
</body>
</html>
